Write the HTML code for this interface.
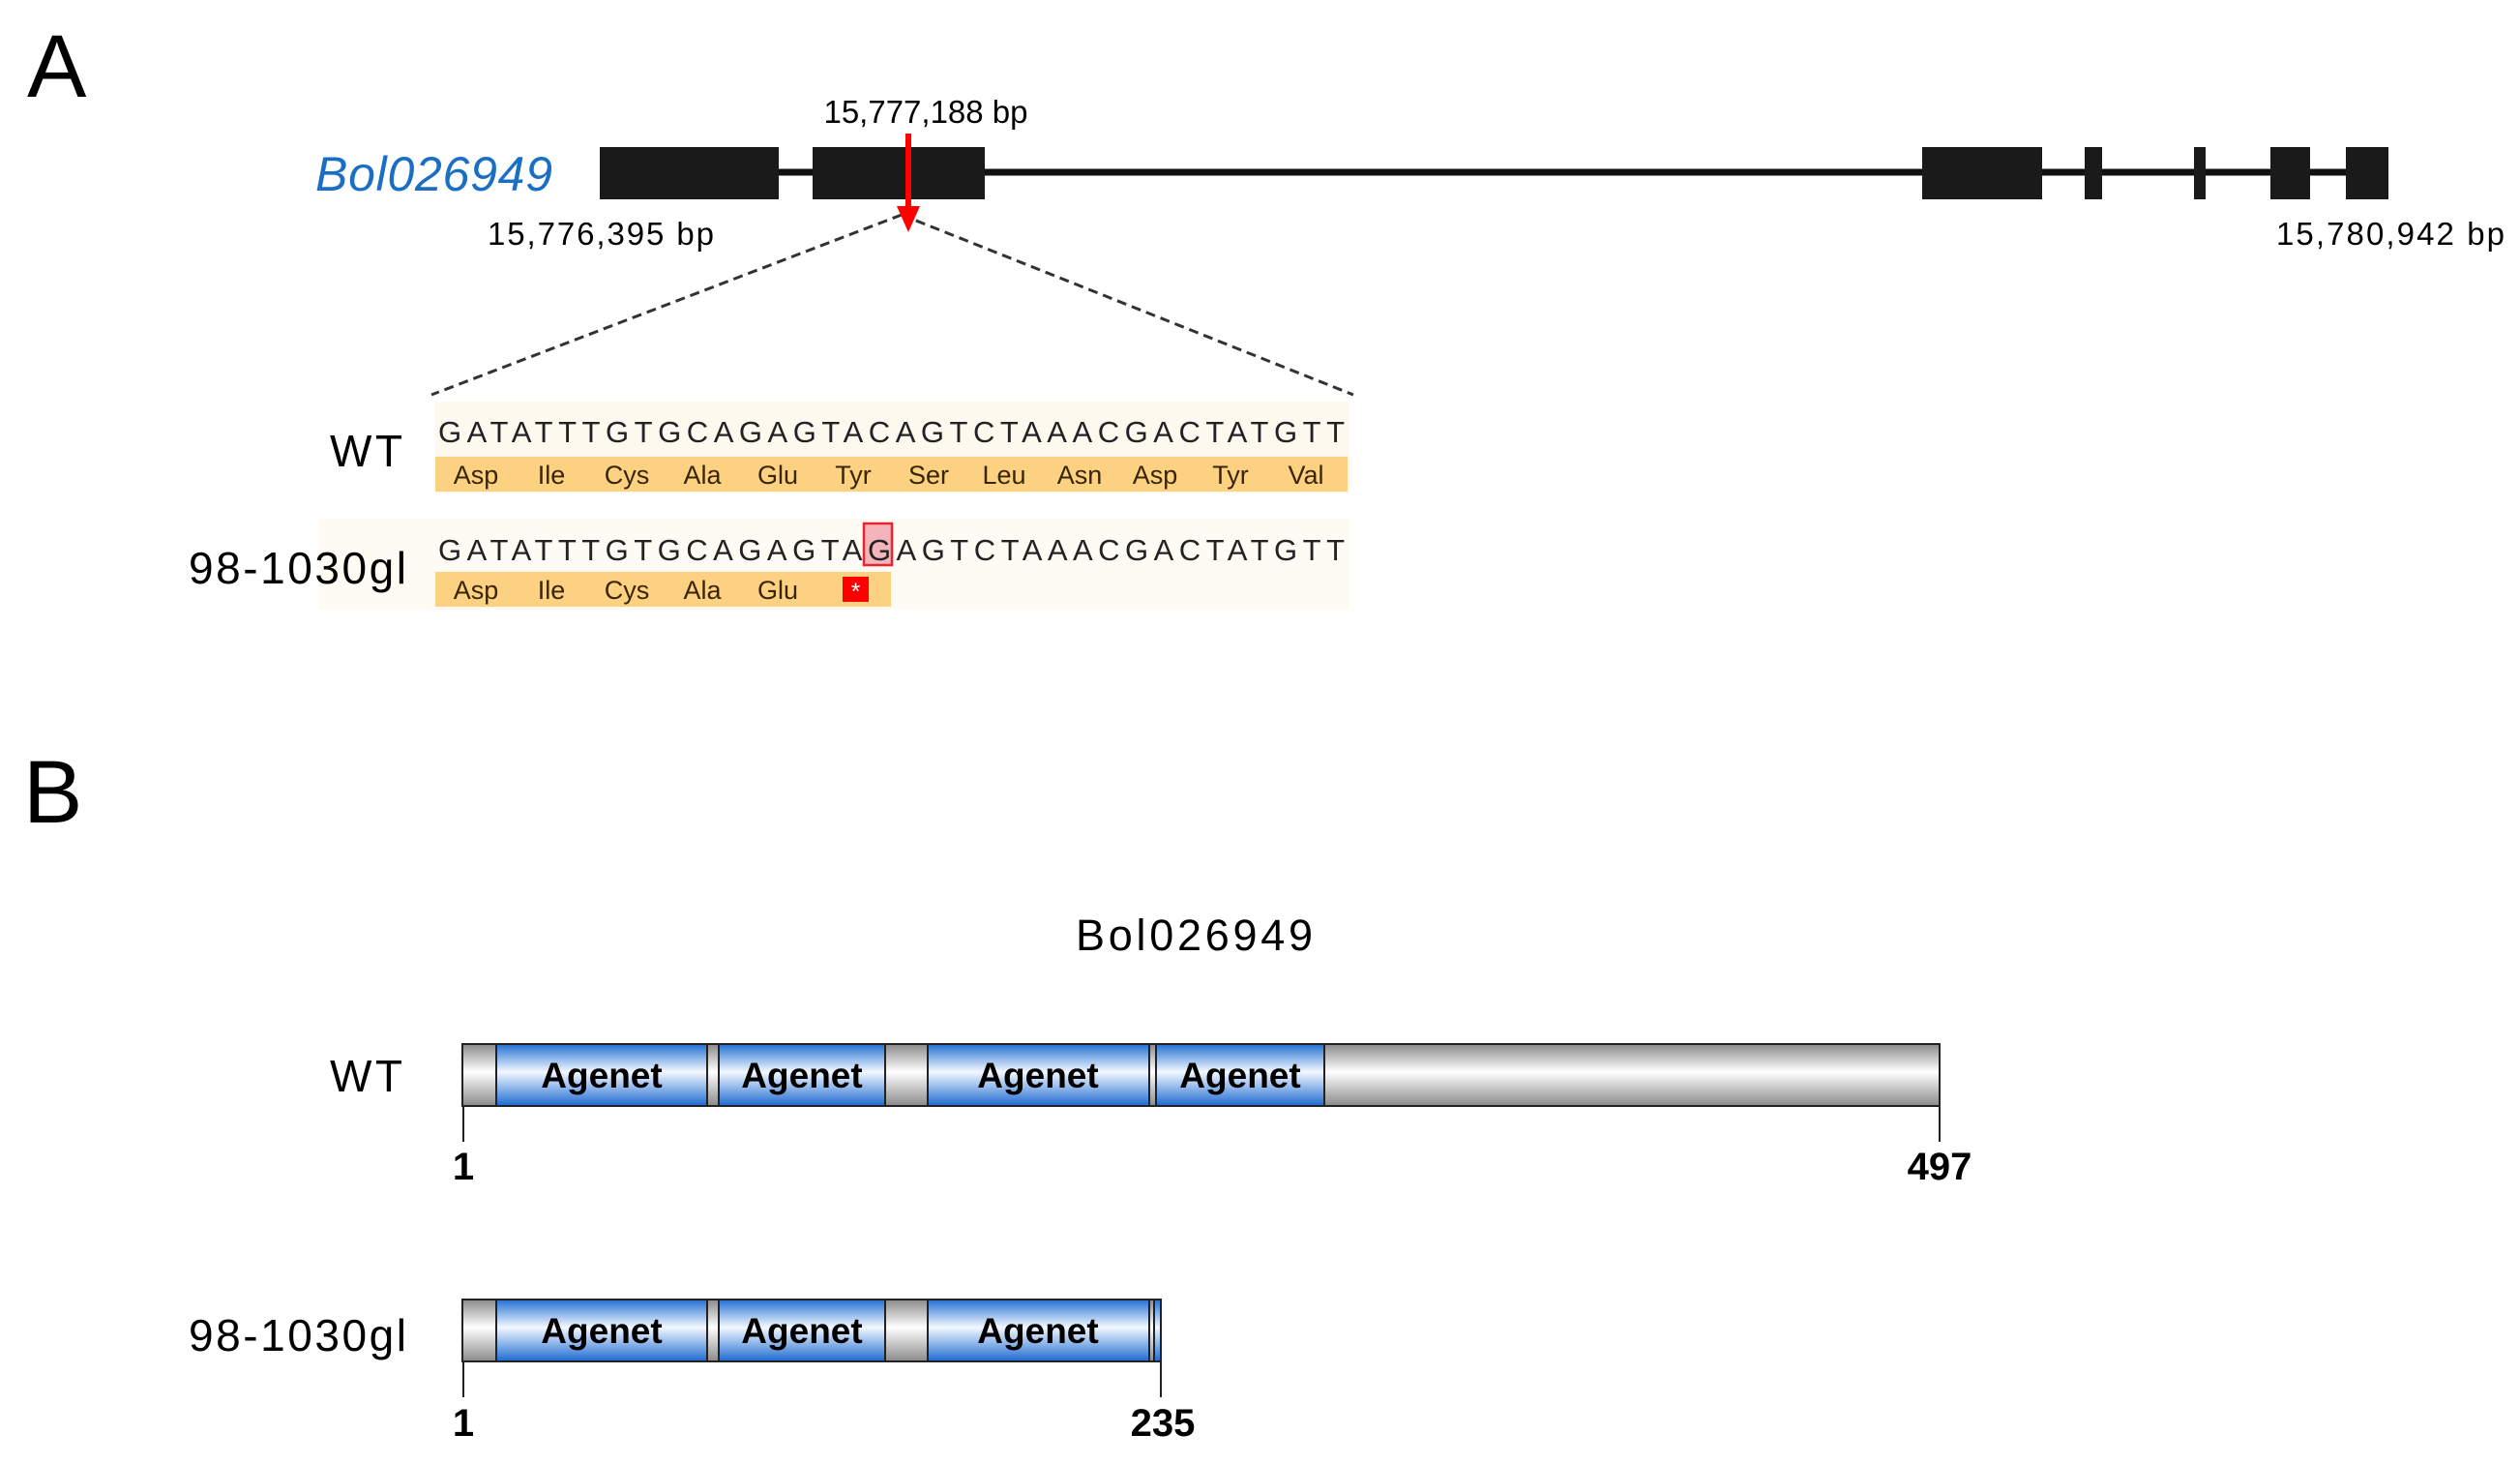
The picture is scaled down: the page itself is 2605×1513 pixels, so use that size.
<!DOCTYPE html>
<html><head><meta charset="utf-8"><style>
html,body{margin:0;padding:0;background:#fff;}
svg{display:block;}
text{font-family:"Liberation Sans",Arial,sans-serif;}
</style></head><body>
<svg width="2605" height="1513" viewBox="0 0 2605 1513" xmlns="http://www.w3.org/2000/svg">
<defs>
<linearGradient id="gg" x1="0" y1="0" x2="0" y2="1">
<stop offset="0" stop-color="#8a8a8a"/><stop offset="0.45" stop-color="#ffffff"/><stop offset="1" stop-color="#8a8a8a"/>
</linearGradient>
<linearGradient id="bg" x1="0" y1="0" x2="0" y2="1">
<stop offset="0" stop-color="#2270d4"/><stop offset="0.45" stop-color="#f4f8ff"/><stop offset="1" stop-color="#1c6bd2"/>
</linearGradient>
</defs>

<!-- Panel A -->
<text x="28" y="100" font-size="92">A</text>
<text x="326" y="197" font-size="50" font-style="italic" fill="#1a6fc4" textLength="245">Bol026949</text>
<line x1="805" y1="178" x2="2469" y2="178" stroke="#111" stroke-width="7"/>
<g fill="#1a1a1a">
<rect x="620" y="152" width="185" height="54"/>
<rect x="840" y="152" width="178" height="54"/>
<rect x="1987" y="152" width="124" height="54"/>
<rect x="2155" y="152" width="18" height="54"/>
<rect x="2268" y="152" width="12" height="54"/>
<rect x="2347" y="152" width="41" height="54"/>
<rect x="2425" y="152" width="44" height="54"/>
</g>
<text x="957" y="127" font-size="33" text-anchor="middle">15,777,188 bp</text>
<text x="504" y="253" font-size="33" textLength="234">15,776,395 bp</text>
<text x="2353" y="253" font-size="33" textLength="236">15,780,942 bp</text>
<line x1="932" y1="222" x2="446" y2="408" stroke="#333" stroke-width="3" stroke-dasharray="10,6"/>
<line x1="932" y1="222" x2="1399" y2="408" stroke="#333" stroke-width="3" stroke-dasharray="10,6"/>
<line x1="939" y1="138" x2="939" y2="215" stroke="#f00" stroke-width="6"/>
<polygon points="927,213 951,213 939,240" fill="#f00"/>

<!-- sequences -->
<rect x="450" y="415" width="945" height="95" fill="#fef9ef"/>
<rect x="330" y="536" width="1065" height="94" fill="#fefbf4"/>
<text x="341" y="482" font-size="46" textLength="75">WT</text>
<text x="195" y="603" font-size="46" textLength="225">98-1030gl</text>
<text x="453" y="457" font-size="31" fill="#222" textLength="937" lengthAdjust="spacing">GATATTTGTGCAGAGTACAGTCTAAACGACTATGTT</text>
<rect x="450" y="472" width="943" height="36" fill="#fcd282"/>
<g font-size="27" fill="#3a2500" text-anchor="middle">
<text x="492" y="500">Asp</text><text x="570" y="500">Ile</text><text x="648" y="500">Cys</text>
<text x="726" y="500">Ala</text><text x="804" y="500">Glu</text><text x="882" y="500">Tyr</text>
<text x="960" y="500">Ser</text><text x="1038" y="500">Leu</text><text x="1116" y="500">Asn</text>
<text x="1194" y="500">Asp</text><text x="1272" y="500">Tyr</text><text x="1350" y="500">Val</text>
</g>
<rect x="893" y="541" width="29" height="43" fill="#f4b4bc" stroke="#e8242e" stroke-width="2.5"/>
<text x="453" y="579" font-size="31" fill="#222" textLength="937" lengthAdjust="spacing">GATATTTGTGCAGAGTAGAGTCTAAACGACTATGTT</text>
<rect x="450" y="591" width="471" height="36" fill="#fcd282"/>
<g font-size="27" fill="#3a2500" text-anchor="middle">
<text x="492" y="619">Asp</text><text x="570" y="619">Ile</text><text x="648" y="619">Cys</text>
<text x="726" y="619">Ala</text><text x="804" y="619">Glu</text>
</g>
<rect x="871" y="596" width="27" height="26" fill="#f00"/>
<text x="884.5" y="619" font-size="24" fill="#fff" text-anchor="middle">*</text>

<!-- Panel B -->
<text x="24" y="850" font-size="92">B</text>
<text x="1112" y="982" font-size="45" textLength="245">Bol026949</text>
<text x="341" y="1128" font-size="46" textLength="75">WT</text>
<text x="195" y="1396" font-size="46" textLength="225">98-1030gl</text>

<g stroke="#222" stroke-width="2">
<rect x="478" y="1079" width="1527" height="64" fill="url(#gg)"/>
<rect x="513" y="1079" width="218" height="64" fill="url(#bg)"/>
<rect x="743" y="1079" width="172" height="64" fill="url(#bg)"/>
<rect x="959" y="1079" width="229" height="64" fill="url(#bg)"/>
<rect x="1195" y="1079" width="174" height="64" fill="url(#bg)"/>
<line x1="479" y1="1143" x2="479" y2="1180"/>
<line x1="2005" y1="1143" x2="2005" y2="1180"/>

<rect x="478" y="1343" width="722" height="64" fill="url(#gg)"/>
<rect x="513" y="1343" width="218" height="64" fill="url(#bg)"/>
<rect x="743" y="1343" width="172" height="64" fill="url(#bg)"/>
<rect x="959" y="1343" width="229" height="64" fill="url(#bg)"/>
<rect x="1193" y="1343" width="7" height="64" fill="url(#bg)"/>
<line x1="479" y1="1407" x2="479" y2="1444"/>
<line x1="1200" y1="1407" x2="1200" y2="1444"/>
</g>
<g font-size="37" font-weight="bold" text-anchor="middle">
<text x="622" y="1124">Agenet</text><text x="829" y="1124">Agenet</text>
<text x="1073" y="1124">Agenet</text><text x="1282" y="1124">Agenet</text>
<text x="622" y="1388">Agenet</text><text x="829" y="1388">Agenet</text>
<text x="1073" y="1388">Agenet</text>
</g>
<g font-size="40" font-weight="bold" text-anchor="middle">
<text x="479" y="1219">1</text><text x="2005" y="1219">497</text>
<text x="479" y="1484">1</text><text x="1202" y="1484">235</text>
</g>
</svg>
</body></html>
